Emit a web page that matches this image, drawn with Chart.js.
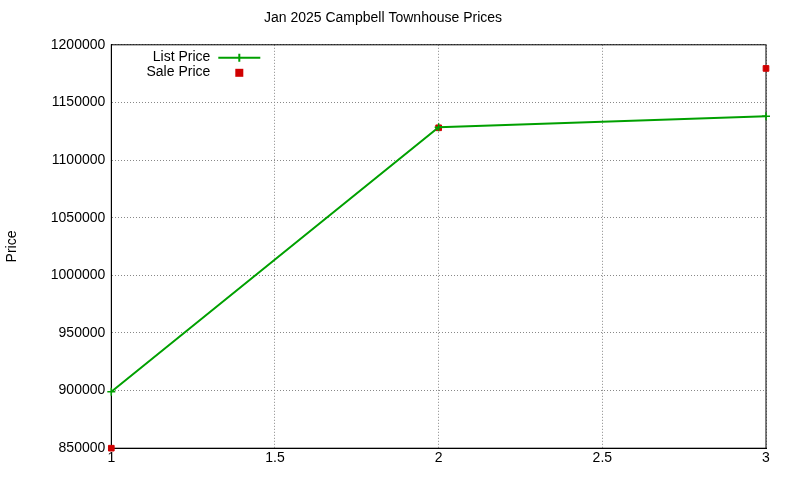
<!DOCTYPE html>
<html>
<head>
<meta charset="utf-8">
<script src="https://cdn.jsdelivr.net/npm/chart.js@4"></script>
<style>
  html, body { margin: 0; padding: 0; background: #fff; }
  #wrap { width: 800px; height: 480px; }
</style>
</head>
<body>
<div id="wrap"><canvas id="chart" width="800" height="480"></canvas></div>
<script>
// data
const xValues = [1, 2, 3];
const listPrice = [899000, 1128500, 1138000];
const salePrice = [850000, 1128000, 1179500];
const seriesNames = ["List Price", "Sale Price"];

const FONT = "'Liberation Sans', Arial, sans-serif";

// gnuplot-ish key in the top left of the plot
const keyPlugin = {
  id: "key",
  afterDraw(chart) {
    const ctx = chart.ctx;
    const a = chart.chartArea;
    ctx.save();
    ctx.font = "14px " + FONT;
    ctx.fillStyle = "#000";
    ctx.textAlign = "right";
    ctx.textBaseline = "middle";
    ctx.fillText(seriesNames[0], a.left + 99, a.top + 12);
    ctx.fillText(seriesNames[1], a.left + 99, a.top + 27);
    // list price sample
    ctx.strokeStyle = "#00a000";
    ctx.lineWidth = 2;
    ctx.beginPath();
    ctx.moveTo(a.left + 107, a.top + 13);
    ctx.lineTo(a.left + 149, a.top + 13);
    ctx.moveTo(a.left + 128, a.top + 9);
    ctx.lineTo(a.left + 128, a.top + 17);
    ctx.stroke();
    // sale price sample
    ctx.fillStyle = "#d00000";
    ctx.fillRect(a.left + 124, a.top + 24, 8, 8);
    ctx.restore();
  }
};

new Chart(document.getElementById("chart"), {
  type: "scatter",
  data: {
    datasets: [
      {
        label: seriesNames[0],
        data: xValues.map((x, i) => ({ x: x, y: listPrice[i] })),
        showLine: true,
        borderColor: "#00a000",
        backgroundColor: "#00a000",
        borderWidth: 2,
        pointStyle: "cross",
        pointRadius: 4,
        pointBorderWidth: 1.5,
        clip: false
      },
      {
        label: seriesNames[1],
        data: xValues.map((x, i) => ({ x: x, y: salePrice[i] })),
        showLine: false,
        borderColor: "#d00000",
        backgroundColor: "#d00000",
        pointStyle: "rect",
        pointRadius: 4,
        clip: false
      }
    ]
  },
  options: {
    responsive: false,
    animation: false,
    layout: { padding: { top: 6, right: 34, bottom: 11, left: 0 } },
    plugins: {
      legend: { display: false },
      tooltip: { enabled: false },
      title: {
        display: true,
        text: "Jan 2025 Campbell Townhouse Prices",
        color: "#000",
        font: { family: FONT, size: 14, weight: "normal" },
        padding: { top: 4, bottom: 18 }
      }
    },
    scales: {
      x: {
        type: "linear",
        min: 1,
        max: 3,
        ticks: {
          stepSize: 0.5, color: "#000", font: { family: FONT, size: 14 }, padding: 2,
          callback: (v) => String(v)
        },
        grid: { color: "#888", tickLength: 0 },
        border: { color: "#000", width: 1, dash: [1, 2] }
      },
      y: {
        min: 850000,
        max: 1200000,
        ticks: {
          stepSize: 50000, color: "#000", font: { family: FONT, size: 14 }, padding: 6,
          callback: (v) => String(v)
        },
        grid: { color: "#888", tickLength: 0 },
        border: { color: "#000", width: 1, dash: [1, 2] },
        title: {
          display: true,
          text: "Price",
          color: "#000",
          font: { family: FONT, size: 14 },
          padding: { top: 4, bottom: 24 }
        }
      }
    }
  },
  plugins: [keyPlugin, {
    id: "frame",
    beforeDatasetsDraw(chart) {
      const a = chart.chartArea, ctx = chart.ctx;
      ctx.save();
      ctx.strokeStyle = "#000";
      ctx.lineWidth = 1;
      ctx.strokeRect(a.left, a.top, a.right - a.left, a.bottom - a.top);
      ctx.restore();
    }
  }]
});
</script>
</body>
</html>
